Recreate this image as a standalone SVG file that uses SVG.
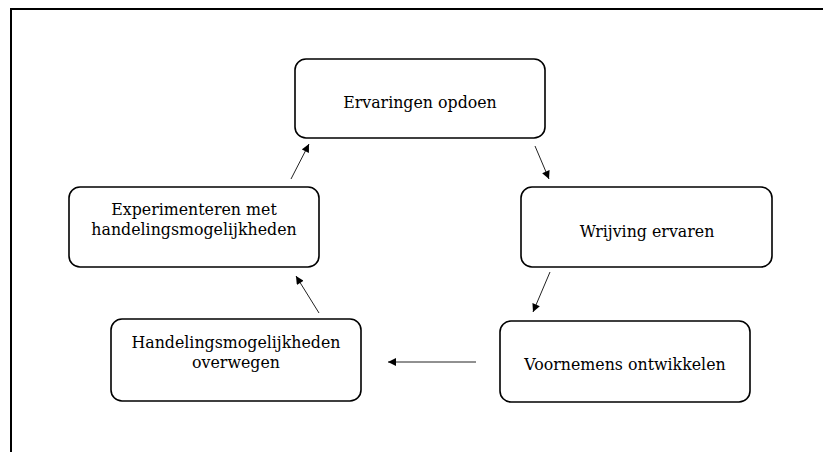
<svg xmlns="http://www.w3.org/2000/svg" width="823" height="452" viewBox="0 0 823 452">
<defs>
<style>
.frame{fill:none;stroke:#000;stroke-width:2}
.box{fill:#fff;stroke:#000;stroke-width:1.6}
.lbl{font-family:"DejaVu Serif","Liberation Serif",serif;font-size:15.8px;fill:#000;text-anchor:middle}
.con{stroke:#222;stroke-width:1;fill:none;marker-end:url(#ah)}
</style>
<marker id="ah" viewBox="0 0 10 10" refX="10" refY="5" markerWidth="10" markerHeight="8" markerUnits="userSpaceOnUse" orient="auto">
<path d="M0,0 L10,5 L0,10 z" fill="#000"/>
</marker>
</defs>
<rect width="823" height="452" fill="#fff"/>
<path class="frame" d="M11,460 L11,9 L830,9"/>
<g id="connectors">
<line class="con" x1="291" y1="179" x2="309" y2="144"/>
<line class="con" x1="535" y1="146" x2="549" y2="179"/>
<line class="con" x1="550" y1="272" x2="533" y2="312"/>
<line class="con" x1="476" y1="362" x2="388" y2="362"/>
<line class="con" x1="319" y1="313" x2="296" y2="276"/>
</g>
<g id="n1">
<rect class="box" x="295" y="59" width="250" height="79" rx="11"/>
<text class="lbl" x="420" y="108">Ervaringen opdoen</text>
</g>
<g id="n2">
<rect class="box" x="521" y="187" width="251" height="80" rx="11"/>
<text class="lbl" x="647" y="237">Wrijving ervaren</text>
</g>
<g id="n3">
<rect class="box" x="500" y="321" width="250" height="81" rx="11"/>
<text class="lbl" x="625" y="370">Voornemens ontwikkelen</text>
</g>
<g id="n4">
<rect class="box" x="111" y="319" width="250" height="82" rx="11"/>
<text class="lbl" x="236" y="348">Handelingsmogelijkheden</text>
<text class="lbl" x="236" y="368">overwegen</text>
</g>
<g id="n5">
<rect class="box" x="69" y="187" width="250" height="80" rx="11"/>
<text class="lbl" x="194" y="215">Experimenteren met</text>
<text class="lbl" x="194" y="235">handelingsmogelijkheden</text>
</g>
</svg>
